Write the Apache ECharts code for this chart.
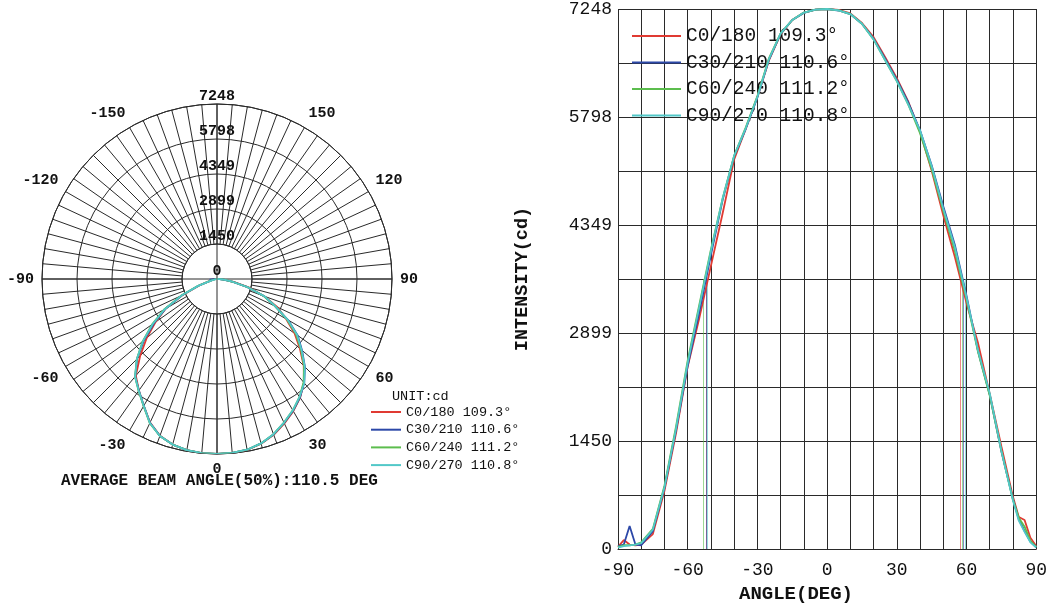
<!DOCTYPE html>
<html><head><meta charset="utf-8">
<script src="https://cdn.jsdelivr.net/npm/echarts@6/dist/echarts.min.js"></script>
<style>html,body{margin:0;padding:0;background:#fff}#c{width:1050px;height:606px}</style>
</head><body><div id="c"></div>
<script>
// ---- data ----
const angles = [-90,-87.5,-85,-82.5,-80,-75,-70,-65,-60,-55,-50,-45,-40,-35,-30,-25,-20,-15,-10,-5,0,5,10,15,20,25,30,35,40,45,50,55,60,65,70,75,80,82.5,85,87.5,90];
const seriesNames = ['C0/180','C30/210','C60/240','C90/270'];
const beamAngles = [109.3, 110.6, 111.2, 110.8];
const c0_180  = [30,120,60,50,60,200,780,1560,2450,3100,3800,4500,5230,5640,6070,6560,6910,7100,7200,7240,7248,7235,7190,7060,6870,6600,6320,6000,5600,5080,4480,3920,3300,2760,2080,1380,700,430,390,150,40];
const c30_210 = [40,60,310,60,50,240,820,1600,2460,3180,3950,4680,5270,5640,6060,6570,6915,7100,7195,7240,7248,7228,7180,7050,6850,6580,6300,5990,5620,5150,4600,4080,3400,2650,2070,1310,670,400,240,100,30];
const c60_240 = [30,50,50,60,90,270,850,1650,2530,3280,4020,4700,5280,5660,6080,6590,6920,7100,7200,7240,7248,7230,7180,7050,6840,6560,6280,5960,5580,5100,4540,4000,3350,2640,2060,1320,660,420,300,110,25];
const c90_270 = [20,40,50,60,80,260,830,1620,2500,3250,4000,4700,5280,5650,6070,6580,6920,7100,7200,7240,7248,7230,7180,7050,6840,6560,6280,5960,5620,5140,4570,4050,3380,2660,2090,1320,650,380,230,90,20];
const halfAngles = [[-51.9,57.4],[-52.0,58.6],[-53.2,58.0],[-51.4,59.4]];
const peak = 7248;
const radialTicks = [0,1450,2899,4349,5798,7248];
const avgText = 'AVERAGE BEAM ANGLE(50%):110.5 DEG';

// ---- styles ----
const colors = ['#e03a32','#2c48a8','#5cbd4e','#52c8c8'];
const mono = 'Liberation Mono';
const gridLine = {color:'#2a2a2a', width:1};
const values = [c0_180, c30_210, c60_240, c90_270];
const step = peak/5;

const series = [];
seriesNames.forEach((n,i)=>{
  series.push({
    name:n, type:'line', coordinateSystem:'polar', polarIndex:1,
    data: angles.map((a,k)=>[values[i][k], a]),
    symbol:'none', lineStyle:{color:colors[i], width:1.8}, itemStyle:{color:colors[i]},
    z: 5+i, animation:false
  });
  series.push({
    name:n, type:'line', xAxisIndex:0, yAxisIndex:0,
    data: angles.map((a,k)=>[a, values[i][k]]),
    symbol:'none', lineStyle:{color:colors[i], width:1.8}, itemStyle:{color:colors[i]},
    z: 5+i, animation:false,
    markLine:{silent:true, symbol:['none','none'], label:{show:false}, animation:false,
      lineStyle:{color:colors[i], width:1, opacity:0.6, type:'solid'},
      data: halfAngles[i].map(a=>[{coord:[a,0]},{coord:[a,peak/2]}])}
  });
});

const legendFmt = name => name + ' ' + beamAngles[seriesNames.indexOf(name)] + '°';

const option = {
  animation:false,
  backgroundColor:'#fff',
  color: colors,
  title:[
    {text:'UNIT:cd', left:387, top:384, textStyle:{fontFamily:mono, fontSize:13.5, fontWeight:'normal', color:'#111'}},
    {text:avgText, left:56, top:468, textStyle:{fontFamily:mono, fontSize:16, fontWeight:'bold', color:'#111'}},
    {text:'ANGLE(DEG)', left:734, top:580, textStyle:{fontFamily:mono, fontSize:19, fontWeight:'bold', color:'#111'}}
  ],
  legend:[
    {data:seriesNames, orient:'vertical', left:366, top:400, itemWidth:30, itemHeight:2, itemGap:3.7, icon:'rect',
     formatter:legendFmt, textStyle:{fontFamily:mono, fontSize:13.5, lineHeight:14, color:'#111'}, selectedMode:false},
    {data:seriesNames, orient:'vertical', left:627, top:21, itemWidth:49, itemHeight:2, itemGap:6.5, icon:'rect',
     formatter:legendFmt, textStyle:{fontFamily:mono, fontSize:19.5, lineHeight:20, color:'#111'}, selectedMode:false}
  ],
  polar:[
    {center:[217,279], radius:[35,175]},
    {center:[217,279], radius:[0,175]}
  ],
  angleAxis:[
    {polarIndex:0, type:'value', min:-180, max:180, interval:5, startAngle:90, clockwise:false,
     axisLine:{show:true, lineStyle:gridLine}, axisTick:{show:false},
     axisLabel:{show:true, margin:8, fontFamily:mono, fontSize:15, fontWeight:'bold', color:'#111',
       formatter: v => (v % 30 === 0 && Math.abs(v) !== 180) ? String(v) : ''},
     splitLine:{show:true, lineStyle:gridLine}},
    {polarIndex:1, type:'value', min:-180, max:180, interval:90, startAngle:90, clockwise:false,
     axisLine:{show:false}, axisTick:{show:false}, axisLabel:{show:false},
     splitLine:{show:true, lineStyle:gridLine}}
  ],
  radiusAxis:[
    {polarIndex:0, type:'value', min:step, max:peak, interval:step,
     axisLine:{show:false}, axisTick:{show:false}, axisLabel:{show:false},
     splitLine:{show:true, lineStyle:gridLine}},
    {polarIndex:1, type:'value', min:0, max:peak, interval:step,
     axisLine:{show:false}, axisTick:{show:false}, splitLine:{show:false},
     axisLabel:{show:true, margin:0, align:'center', verticalAlign:'bottom', fontFamily:mono, fontSize:15, fontWeight:'bold', color:'#111',
       formatter: v => String(radialTicks[Math.round(v/step)])}}
  ],
  grid:{left:618, right:12, top:8.5, bottom:57, containLabel:false},
  xAxis:{type:'value', min:-90, max:90, interval:30,
    axisLine:{show:true, lineStyle:gridLine}, axisTick:{show:false},
    axisLabel:{fontFamily:mono, fontSize:18, color:'#111', margin:12, formatter:v=>String(v)},
    splitLine:{show:true, lineStyle:gridLine},
    minorTick:{show:false, splitNumber:3}, minorSplitLine:{show:true, lineStyle:gridLine}},
  yAxis:{type:'value', min:0, max:peak, interval:step,
    name:'INTENSITY(cd)', nameLocation:'middle', nameGap:86, nameRotate:90,
    nameTextStyle:{fontFamily:mono, fontSize:18.5, fontWeight:'bold', color:'#111'},
    axisLine:{show:true, lineStyle:gridLine}, axisTick:{show:false},
    axisLabel:{fontFamily:mono, fontSize:18, color:'#111', margin:6,
      formatter: v => String(radialTicks[Math.round(v/step)])},
    splitLine:{show:true, lineStyle:gridLine},
    minorTick:{show:false, splitNumber:2}, minorSplitLine:{show:true, lineStyle:gridLine}},
  series: series
};
const chart = echarts.init(document.getElementById('c'), null, {renderer:'canvas'});
chart.setOption(option);
</script></body></html>
